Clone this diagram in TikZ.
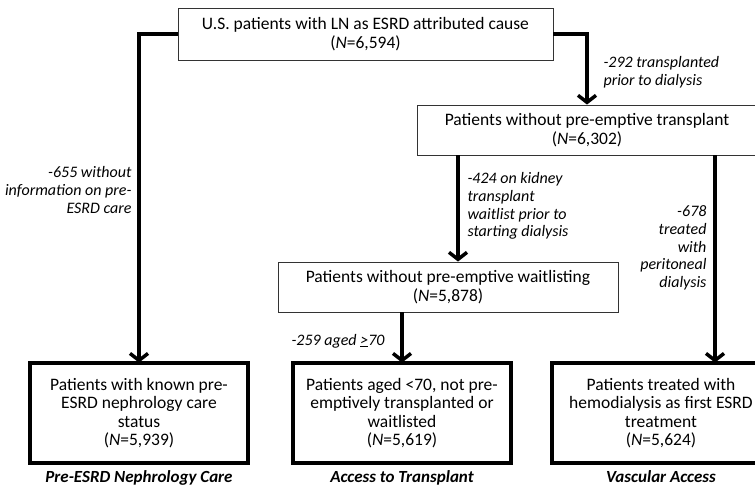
\documentclass[tikz,border=0pt]{standalone}
\usepackage{fontspec}
\setmainfont{Carlito}
\usetikzlibrary{arrows.meta,positioning}

\tikzset{
  stage/.style={draw=black!80, line width=0.9pt, align=center, font=\fontsize{17.5}{18.5}\selectfont, inner sep=2pt},
  cohort/.style={draw, double, line width=0.7pt, double distance=1.2pt, align=center, font=\fontsize{17.5}{18.5}\selectfont, minimum width=206pt, minimum height=88pt, inner sep=2pt},
  flow/.style={line width=3.5pt, -{Straight Barb[length=7pt,width=18pt]}},
  excl/.style={font=\fontsize{16}{17.8}\selectfont\itshape},
  caption/.style={font=\fontsize{17}{18}\selectfont\bfseries\itshape}
}

\begin{document}
\begin{tikzpicture}[x=1pt, y=-1pt]
\useasboundingbox (0,0) rectangle (755,490);
\clip (0,0) rectangle (755,490);
\node[stage, minimum width=375pt, minimum height=52pt] (lncause) at (365.5,34) {U.S. patients with LN as ESRD attributed cause\\(\textit{N}=6,594)};
\node[stage, minimum width=340pt, minimum height=50pt] (notx) at (587,130) {Patients without pre-emptive transplant\\(\textit{N}=6,302)};
\node[stage, minimum width=340pt, minimum height=50pt] (nowl) at (448,287) {Patients without pre-emptive waitlisting\\(\textit{N}=5,878)};
\node[cohort] (care) at (139,413) {Patients with known pre-\\ESRD nephrology care\\status\\(\textit{N}=5,939)};
\node[cohort] (young) at (402,413) {Patients aged <70, not pre-\\emptively transplanted or\\waitlisted\\(\textit{N}=5,619)};
\node[cohort] (hemo) at (661,413) {Patients treated with\\hemodialysis as first ESRD\\treatment\\(\textit{N}=5,624)};
\foreach \n in {care,young,hemo}
  \draw[line width=4pt] ([shift={(-6pt,6pt)}]\n.north west) rectangle ([shift={(6pt,-6pt)}]\n.south east);

% exclusions
\draw[flow, shorten >=6pt] (lncause.west) -| (care.north);
\draw[flow] (lncause.east) -| (notx.north);
\draw[flow] ([xshift=-129pt]notx.south) -- ([xshift=-129pt]notx.south |- nowl.north);
\draw[flow, shorten >=6pt] ([xshift=128pt]notx.south) -- ([xshift=128pt]notx.south |- hemo.north);
\draw[flow, shorten >=6pt] (nowl.south -| young.north) -- (young.north);

\node[excl, anchor=east, align=right] (nopre) at (135,190) {-655 without\\information on pre-\\ESRD care};
\node[excl, anchor=west, align=left] (pretx) at (600,72) {-292 transplanted\\prior to dialysis};
\node[excl, anchor=west, align=left] (prewl) at (464,206) {-424 on kidney\\transplant\\waitlist prior to\\starting dialysis};
\node[excl, anchor=east, align=right] (pd) at (710,248) {-678\\treated\\with\\peritoneal\\dialysis};
\node[excl, anchor=east] (old) at (388,341) {-259 aged \underline{>}70};

% outcome areas
\node[caption, below=10pt of care] (capcare) {Pre-ESRD Nephrology Care};
\node[caption, below=10pt of young] (capyoung) {Access to Transplant};
\node[caption, below=10pt of hemo] (caphemo) {Vascular Access};
\end{tikzpicture}
\end{document}
